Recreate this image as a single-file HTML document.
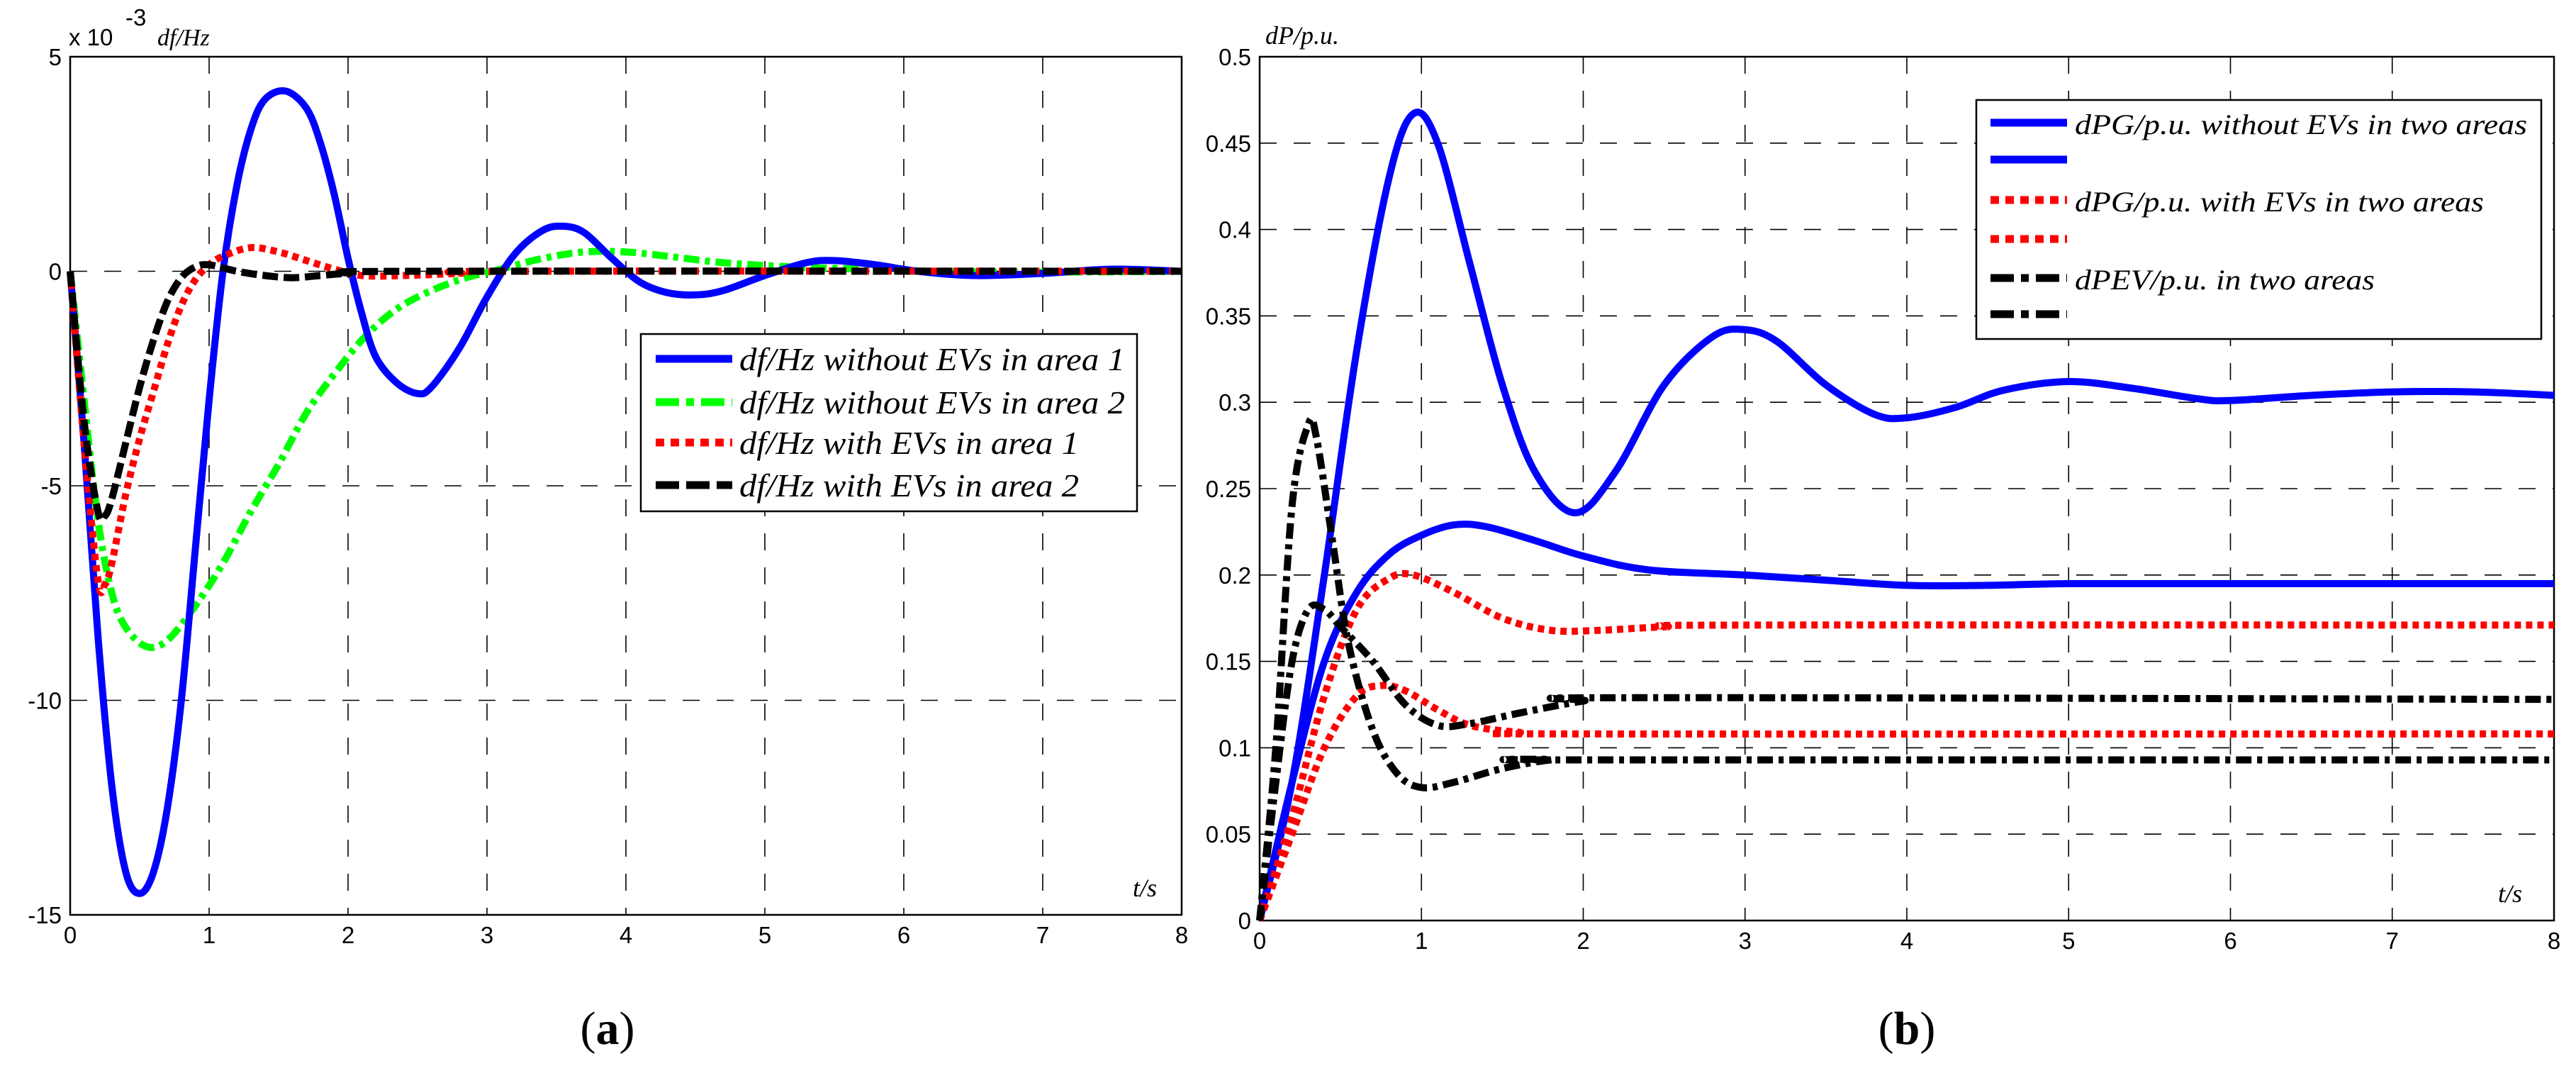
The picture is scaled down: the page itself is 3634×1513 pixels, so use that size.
<!DOCTYPE html>
<html><head><meta charset="utf-8">
<style>
body{margin:0;background:#fff;}
svg{display:block;}
.tk{font-family:"Liberation Sans",sans-serif;font-size:33px;fill:#000;}
.it{font-family:"Liberation Serif",serif;font-style:italic;fill:#000;}
</style></head>
<body>
<svg id="chart" width="3634" height="1513" viewBox="0 0 3634 1513" xmlns="http://www.w3.org/2000/svg"></svg>
<script>
// ---- data: panel (a) ----
const aTicksX = [0,1,2,3,4,5,6,7,8];
const aTicksY = [5,0,-5,-10,-15];
const aBlueT = [0,0.1,0.2,0.3,0.4,0.5,0.6,0.7,0.8,0.9,1.0,1.1,1.2,1.3,1.4,1.55,1.7,1.8,1.9,2.0,2.1,2.2,2.35,2.5,2.6,2.8,3.0,3.2,3.4,3.55,3.7,3.9,4.1,4.3,4.5,4.7,5.0,5.3,5.5,5.8,6.1,6.5,7,7.5,8];
const aBlueV = [0,-4,-8.5,-12,-14,-14.5,-14,-12.5,-10,-6.5,-3,0,2,3.3,4,4.2,3.8,3,1.8,0.3,-1,-2,-2.6,-2.85,-2.7,-1.8,-0.6,0.4,0.95,1.05,0.9,0.3,-0.25,-0.5,-0.55,-0.45,-0.1,0.2,0.25,0.15,0,-0.1,-0.05,0.05,0];
const aGreenT = [0,0.1,0.2,0.3,0.4,0.55,0.7,0.9,1.1,1.3,1.5,1.7,1.9,2.1,2.3,2.5,2.8,3.1,3.4,3.7,4.0,4.3,4.7,5.2,5.7,6.2,7,8];
const aGreenV = [0,-3,-5.8,-7.5,-8.3,-8.75,-8.6,-7.8,-6.8,-5.6,-4.5,-3.3,-2.4,-1.6,-1.0,-0.6,-0.2,0.05,0.3,0.45,0.45,0.35,0.2,0.1,0.05,0,-0.02,0];
const aRedT = [0,0.1,0.2,0.25,0.3,0.4,0.5,0.6,0.7,0.8,0.9,1.0,1.1,1.3,1.5,1.7,1.9,2.1,2.4,2.8,3.2,8];
const aRedV = [0,-4,-7.2,-7.3,-6.8,-5.2,-3.9,-2.8,-1.7,-0.8,-0.2,0.15,0.35,0.55,0.45,0.25,0.05,-0.1,-0.1,-0.05,0,0];
const aBlackT = [0,0.1,0.2,0.25,0.3,0.4,0.5,0.6,0.7,0.8,0.9,1.0,1.2,1.4,1.6,1.8,2.0,2.5,8];
const aBlackV = [0,-3.5,-5.6,-5.7,-5.3,-4,-2.7,-1.6,-0.7,-0.15,0.1,0.15,0,-0.1,-0.15,-0.1,-0.05,0,0];
const aLegend = ["df/Hz without EVs in area 1","df/Hz without EVs in area 2","df/Hz with EVs in area 1","df/Hz with EVs in area 2"];
// ---- data: panel (b) ----
const bTicksX = [0,1,2,3,4,5,6,7,8];
const bTicksY = [0,0.05,0.1,0.15,0.2,0.25,0.3,0.35,0.4,0.45,0.5];
const bBlue1T = [0,0.2,0.4,0.6,0.8,0.95,1.1,1.3,1.5,1.7,1.95,2.2,2.5,2.8,3.0,3.2,3.5,3.8,4.0,4.3,4.6,5.0,5.4,5.8,6.0,6.5,7.0,7.5,8];
const bBlue1V = [0,0.08,0.2,0.33,0.43,0.467,0.45,0.38,0.31,0.26,0.236,0.26,0.31,0.338,0.342,0.335,0.31,0.293,0.291,0.297,0.307,0.312,0.308,0.302,0.301,0.304,0.306,0.306,0.304];
const bBlue2T = [0,0.2,0.4,0.6,0.8,1.0,1.2,1.4,1.7,2.0,2.4,3.0,3.5,4.0,4.5,5,6,8];
const bBlue2V = [0,0.08,0.15,0.19,0.212,0.223,0.229,0.228,0.22,0.211,0.203,0.2,0.197,0.194,0.194,0.195,0.195,0.195];
const bRed1T = [0,0.2,0.4,0.6,0.8,0.95,1.2,1.5,1.8,2.1,2.5,3,8];
const bRed1V = [0,0.06,0.13,0.18,0.198,0.2,0.19,0.175,0.168,0.168,0.17,0.171,0.171];
const bRed2T = [0,0.2,0.4,0.6,0.75,0.9,1.1,1.3,1.6,2,8];
const bRed2V = [0,0.05,0.1,0.13,0.136,0.133,0.122,0.113,0.109,0.108,0.108];
const bBlack1T = [0,0.1,0.2,0.3,0.35,0.45,0.55,0.7,0.85,1.0,1.2,1.5,1.8,2.0,8];
const bBlack1V = [0,0.1,0.24,0.287,0.28,0.22,0.16,0.11,0.085,0.077,0.08,0.088,0.093,0.093,0.093];
const bBlack2T = [0,0.1,0.2,0.3,0.4,0.5,0.7,0.9,1.1,1.3,1.6,2.0,2.3,8];
const bBlack2V = [0,0.08,0.15,0.18,0.18,0.17,0.15,0.125,0.113,0.114,0.12,0.127,0.129,0.128];
const bLegend = ["dPG/p.u. without EVs in two areas","","dPG/p.u. with EVs in two areas","","dPEV/p.u. in two areas",""];

const NS="http://www.w3.org/2000/svg";
const svg=document.getElementById('chart');
function mk(tag,attrs,parent){const e=document.createElementNS(NS,tag);for(const k in attrs)e.setAttribute(k,attrs[k]);(parent||svg).appendChild(e);return e;}
function pathD(T,V,sx,sy){
  const P=T.map((t,i)=>[sx(t),sy(V[i])]);
  let d='M'+P[0][0].toFixed(1)+','+P[0][1].toFixed(1);
  for(let i=0;i<P.length-1;i++){
    const p0=P[Math.max(0,i-1)],p1=P[i],p2=P[i+1],p3=P[Math.min(P.length-1,i+2)];
    const c1=[p1[0]+(p2[0]-p0[0])/6,p1[1]+(p2[1]-p0[1])/6];
    const c2=[p2[0]-(p3[0]-p1[0])/6,p2[1]-(p3[1]-p1[1])/6];
    d+='C'+c1[0].toFixed(1)+','+c1[1].toFixed(1)+' '+c2[0].toFixed(1)+','+c2[1].toFixed(1)+' '+p2[0].toFixed(1)+','+p2[1].toFixed(1);
  }
  return d;
}
const styles={
  blue:{stroke:'#0000ff',dash:''},
  green:{stroke:'#00ff00',dash:'22 8 7 8'},
  red:{stroke:'#ff0000',dash:'9 7'},
  black:{stroke:'#000000',dash:'22 8'},
  blackdd:{stroke:'#000000',dash:'22 8 7 8'}
};
const legDash={blue:'',green:'33 10 11 10',red:'12 9',black:'33 10',blackdd:'33 10 11 10'};

function axesPanel(L,R,T,B,xmin,xmax,ymin,ymax,tx,ty,fmtY,name){
  const g=mk('g',{});
  
  
  const sx=v=>L+(v-xmin)/(xmax-xmin)*(R-L);
  const sy=v=>B-(v-ymin)/(ymax-ymin)*(B-T);
  const grid=mk('g',{},g);
  
  
  tx.forEach(v=>{ if(v>xmin&&v<xmax){const l=mk('line',{x1:sx(v),x2:sx(v),y1:T,y2:B,stroke:'#000','stroke-width':1.6,'stroke-dasharray':'24 24'},grid);}});
  ty.forEach(v=>{ if(v>ymin&&v<ymax){const l=mk('line',{x1:L,x2:R,y1:sy(v),y2:sy(v),stroke:'#000','stroke-width':1.6,'stroke-dasharray':'24 24'},grid);}});
  const box=mk('rect',{x:L,y:T,width:R-L,height:B-T,fill:'none',stroke:'#000','stroke-width':2.5},g);
  
  
  tx.forEach(v=>{const t=mk('text',{x:sx(v),y:B+40,'text-anchor':'middle',class:'tk'},g);t.textContent=v;});
  ty.forEach(v=>{const t=mk('text',{x:L-12,y:sy(v)+12,'text-anchor':'end',class:'tk'},g);t.textContent=fmtY(v);});
  return {g,sx,sy};
}
function series(p,T,V,st,name){
  const s=styles[st];
  const e=mk('path',{d:pathD(T,V,p.sx,p.sy),fill:'none',stroke:s.stroke,'stroke-width':10,'stroke-linejoin':'round'},p.g);
  if(s.dash)e.setAttribute('stroke-dasharray',s.dash);
  
  
}
function legend(p,x,y,w,h,sx1,sx2,tx,rowY,items,sts,widths,fs,name){
  const g=mk('g',{},p.g);
  
  
  mk('rect',{x:x,y:y,width:w,height:h,fill:'#fff',stroke:'#000','stroke-width':2.5},g);
  items.forEach((txt,i)=>{
    const s=styles[sts[i]];
    const ry=rowY[i];
    const ln=mk('line',{x1:sx1,x2:sx2,y1:ry,y2:ry,stroke:s.stroke,'stroke-width':11},g);
    if(legDash[sts[i]])ln.setAttribute('stroke-dasharray',legDash[sts[i]]);
    
    
    if(txt){const t=mk('text',{x:tx,y:ry+16,class:'it','font-size':fs,textLength:widths[i],lengthAdjust:'spacingAndGlyphs'},g);t.textContent=txt;
      
      }
  });
}

// panel a
const pa=axesPanel(99,1667,80,1290,0,8,-15,5,aTicksX,aTicksY,v=>String(v),'panel-a');
series(pa,aGreenT,aGreenV,'green','series-no-ev-area2');
series(pa,aBlueT,aBlueV,'blue','series-no-ev-area1');
series(pa,aRedT,aRedV,'red','series-ev-area1');
series(pa,aBlackT,aBlackV,'black','series-ev-area2');
legend(pa,904,471,700,250,925,1033,1043,[506,567,624,684],aLegend,['blue','green','red','black'],[544,544,479,479],46,'legend-a');
let t=mk('text',{x:97,y:64,class:'tk','font-size':34},pa.g);t.textContent='x 10';
t=mk('text',{x:177,y:36,class:'tk','font-size':27},pa.g);t.textContent='-3';
t=mk('text',{x:222,y:64,class:'it','font-size':34},pa.g);t.textContent='df/Hz';
t=mk('text',{x:1598,y:1264,class:'it','font-size':36},pa.g);t.textContent='t/s';
t=mk('text',{x:857,y:1472,'text-anchor':'middle',class:'it','font-size':66},pa.g);t.setAttribute('style','font-style:normal');t.innerHTML='(<tspan font-weight="bold">a</tspan>)';

// panel b
const pb=axesPanel(1777,3603,80,1298,0,8,0,0.5,bTicksX,bTicksY,v=>String(v),'panel-b');
series(pb,bBlue1T,bBlue1V,'blue','series-pg-no-ev-1');
series(pb,bBlue2T,bBlue2V,'blue','series-pg-no-ev-2');
series(pb,bRed1T,bRed1V,'red','series-pg-ev-1');
series(pb,bRed2T,bRed2V,'red','series-pg-ev-2');
series(pb,bBlack1T,bBlack1V,'blackdd','series-pev-1');
series(pb,bBlack2T,bBlack2V,'blackdd','series-pev-2');
legend(pb,2788,141,797,337,2808,2916,2927,[173,225,282,337,392,443],bLegend,['blue','blue','red','red','blackdd','blackdd'],[638,0,577,0,423,0],40,'legend-b');
t=mk('text',{x:1785,y:62,class:'it','font-size':36},pb.g);t.textContent='dP/p.u.';
t=mk('text',{x:3524,y:1272,class:'it','font-size':36},pb.g);t.textContent='t/s';
t=mk('text',{x:2690,y:1472,'text-anchor':'middle',class:'it','font-size':66},pb.g);t.setAttribute('style','font-style:normal');t.innerHTML='(<tspan font-weight="bold">b</tspan>)';
</script>
</body></html>
